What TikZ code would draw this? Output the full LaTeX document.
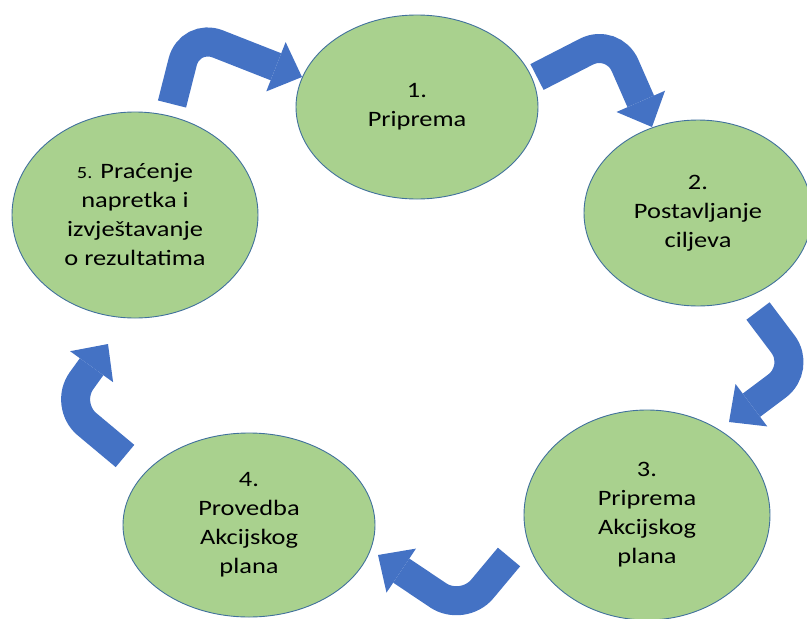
\documentclass[tikz,border=0pt]{standalone}
\usepackage{fontspec}
\setmainfont{Carlito}[FakeStretch=1.2]
\usetikzlibrary{arrows.meta,shapes.geometric}
\definecolor{leaf}{HTML}{A9D18E}
\definecolor{rim}{HTML}{41719C}
\definecolor{flow}{HTML}{4472C4}

\begin{document}
\begin{tikzpicture}[x=1pt,y=-1pt]
      \tikzstyle{stage} = [ellipse,draw=rim,line width=0.9pt,fill=leaf,inner sep=0pt,
        align=center,font=\fontsize{22}{29}\selectfont]
      \tikzstyle{turn} = [draw=flow,line width=29pt,rounded corners=30pt,
        -{Triangle[width=53pt,length=28pt,line width=0pt]}]
      \useasboundingbox (0,0) rectangle (807,619);
      % the five stages
      \node (prep) [stage,minimum width=242pt,minimum height=184pt] at (417,107) {1.\\Priprema};
      \node (goals) [stage,minimum width=228pt,minimum height=186pt] at (698,213) {2.\\Postavljanje\\ciljeva};
      \node (plan) [stage,minimum width=246pt,minimum height=210pt] at (647,515) {3.\\Priprema\\Akcijskog\\plana};
      \node (impl) [stage,minimum width=252pt,minimum height=184pt] at (249,525) {4.\\Provedba\\Akcijskog\\plana};
      \node (report) [stage,minimum width=246pt,minimum height=206pt] at (135,215)
        {{\fontsize{17}{29}\selectfont 5.} Praćenje\\napretka i\\izvještavanje\\o rezultatima};
      % bent arrows between them
      \coordinate (outReport) at (172,104); \coordinate (bendA) at (190,33);  \coordinate (inPrep) at (302,77);
      \coordinate (outPrep) at (537,77);    \coordinate (bendB) at (613,38);  \coordinate (inGoals) at (652,127);
      \coordinate (outGoals) at (758,311);  \coordinate (bendC) at (801,368); \coordinate (inPlan) at (729,422);
      \coordinate (outPlan) at (509,557);   \coordinate (bendD) at (463,612); \coordinate (inImpl) at (378,555);
      \coordinate (outImpl) at (125,456);   \coordinate (bendE) at (64,405);  \coordinate (inReport) at (108,344);
      \draw[turn] (outReport) -- (bendA) -- (inPrep);
      \draw[turn] (outPrep) -- (bendB) -- (inGoals);
      \draw[turn] (outGoals) -- (bendC) -- (inPlan);
      \draw[turn] (outPlan) -- (bendD) -- (inImpl);
      \draw[turn] (outImpl) -- (bendE) -- (inReport);
    \end{tikzpicture}
\end{document}
